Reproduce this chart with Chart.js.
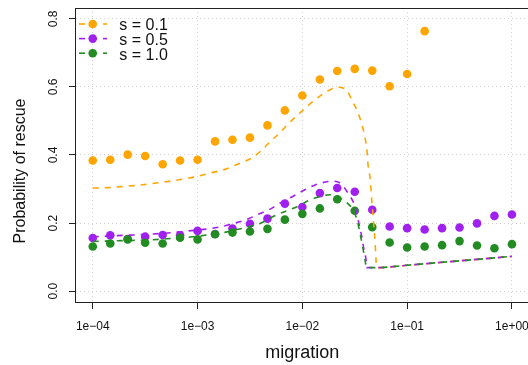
<!DOCTYPE html>
<html>
<head>
<meta charset="utf-8">
<script src="https://cdn.jsdelivr.net/npm/chart.js@4.4.1/dist/chart.umd.min.js"></script>
<style>
html,body{margin:0;padding:0;overflow:hidden;background:#ffffff;width:528px;height:365px}
#wrap{width:560px;height:365px;position:relative}
canvas{display:block}
</style>
</head>
<body>
<div id="wrap"><canvas id="c"></canvas></div>
<script>
// ---------- data ----------
const seriesNames = ['s = 0.1', 's = 0.5', 's = 1.0'];
const seriesColors = ['#FFA500', '#A020F0', '#228B22'];

// simulated points: log10(migration)
const pointLogMigration = [-4.000,-3.833,-3.667,-3.500,-3.333,-3.167,-3.000,-2.833,-2.667,-2.500,
  -2.333,-2.167,-2.000,-1.833,-1.667,-1.500,-1.333,-1.167,-1.000,-0.833,-0.667,-0.500,-0.333,-0.167,0.000];
const pointsS01 = [0.384,0.386,0.401,0.397,0.373,0.384,0.386,0.440,0.445,0.451,
  0.487,0.531,0.575,0.622,0.647,0.653,0.648,0.602,0.638,0.764];
const pointsS05 = [0.156,0.164,0.153,0.160,0.165,0.164,0.177,0.168,0.184,0.198,
  0.213,0.257,0.247,0.288,0.303,0.292,0.239,0.190,0.185,0.181,0.185,0.187,0.199,0.221,0.225];
const pointsS10 = [0.131,0.140,0.152,0.142,0.140,0.157,0.152,0.167,0.172,0.175,
  0.183,0.210,0.227,0.243,0.270,0.236,0.188,0.143,0.128,0.131,0.135,0.147,0.134,0.126,0.138];

// theoretical curves (dashed)
const curveLogMigrationS01 = [-4.000,-3.853,-3.730,-3.606,-3.482,-3.358,-3.243,-3.119,-3.005,-2.881,-2.747,-2.624,-2.480,-2.385,-2.337,-2.213,-2.117,-1.993,-1.897,-1.802,-1.735,-1.668,-1.612,-1.573,-1.516,-1.468,-1.433,-1.402,-1.383,-1.373,-1.354,-1.338,-1.323,-1.307,-1.297,-1.292,-1.000,-0.500,0.000];
const curveS01 = [0.303,0.304,0.307,0.310,0.314,0.319,0.324,0.330,0.337,0.347,0.357,0.372,0.392,0.415,0.430,0.466,0.497,0.532,0.558,0.580,0.592,0.599,0.597,0.588,0.554,0.524,0.490,0.451,0.411,0.371,0.333,0.268,0.209,0.150,0.091,0.069,0.076,0.089,0.102];
const curveLogMigrationS05 = [-4.000,-3.825,-3.701,-3.606,-3.425,-3.243,-3.119,-2.871,-2.747,-2.652,-2.527,-2.412,-2.307,-2.211,-2.088,-1.993,-1.878,-1.754,-1.697,-1.640,-1.564,-1.497,-1.468,-1.433,-1.411,-1.392,-1.387,-1.292,-1.000,-0.500,0.000];
const curveS05 = [0.160,0.162,0.164,0.165,0.168,0.172,0.176,0.184,0.191,0.199,0.211,0.227,0.241,0.259,0.279,0.295,0.312,0.322,0.323,0.317,0.288,0.248,0.209,0.160,0.120,0.091,0.069,0.069,0.076,0.089,0.102];
const curveLogMigrationS10 = [-4.000,-3.767,-3.606,-3.367,-3.243,-3.100,-2.861,-2.718,-2.623,-2.527,-2.403,-2.279,-2.184,-2.050,-1.926,-1.831,-1.735,-1.678,-1.621,-1.526,-1.478,-1.450,-1.424,-1.402,-1.387,-1.292,-1.000,-0.500,0.000];
const curveS10 = [0.146,0.148,0.149,0.152,0.155,0.158,0.167,0.174,0.181,0.188,0.199,0.219,0.232,0.248,0.268,0.278,0.283,0.282,0.270,0.243,0.209,0.170,0.130,0.091,0.069,0.069,0.076,0.089,0.102];

// axes
const xTickValues = [1e-4, 1e-3, 1e-2, 1e-1, 1e0];
const xTickLabels = ['1e\u221204', '1e\u221203', '1e\u221202', '1e\u221201', '1e+00'];
const yTickValues = [0, 0.2, 0.4, 0.6, 0.8];
const yTickLabels = ['0.0', '0.2', '0.4', '0.6', '0.8'];
const xTitle = 'migration';
const yTitle = 'Probability of rescue';

// ---------- helpers ----------
const toXY = (logs, vals) => vals.map((v, i) => ({ x: Math.pow(10, logs[i]), y: v }));
const FONT = '"Liberation Sans", Arial, Helvetica, sans-serif';

const pointSets = [pointsS01, pointsS05, pointsS10];
const curveSets = [[curveLogMigrationS01, curveS01], [curveLogMigrationS05, curveS05], [curveLogMigrationS10, curveS10]];

const datasets = [];
pointSets.forEach((vals, i) => {
  datasets.push({
    label: seriesNames[i] + ' sim',
    data: toXY(pointLogMigration, vals),
    showLine: false,
    pointRadius: 4.3,
    pointHoverRadius: 4.3,
    pointBackgroundColor: seriesColors[i],
    pointBorderWidth: 0,
    borderColor: seriesColors[i],
    order: 10 - i
  });
});
curveSets.forEach((c, i) => {
  datasets.push({
    label: seriesNames[i],
    data: toXY(c[0], c[1]),
    showLine: true,
    pointRadius: 0,
    borderColor: seriesColors[i],
    borderWidth: 1.6,
    borderDash: [6, 6],
    cubicInterpolationMode: 'monotone',
    fill: false,
    order: 5 - i
  });
});

// ---------- plugins ----------
const rDecor = {
  id: 'rDecor',
  afterDraw(chart) {
    const ctx = chart.ctx;
    const a = chart.chartArea;
    const ys = chart.scales.y;
    ctx.save();
    // box
    ctx.strokeStyle = '#222';
    ctx.lineWidth = 1;
    ctx.strokeRect(Math.round(a.left) - 0.5, Math.round(a.top) + 0.5, Math.round(a.right - a.left) + 1, Math.round(a.bottom - a.top));
    // y tick labels (rotated, R style)
    ctx.fillStyle = '#111';
    ctx.font = '12px ' + FONT;
    ctx.textAlign = 'center';
    ctx.textBaseline = 'alphabetic';
    yTickValues.forEach((v, i) => {
      const py = ys.getPixelForValue(v);
      ctx.save();
      ctx.translate(57.3, py);
      ctx.rotate(-Math.PI / 2);
      ctx.fillText(yTickLabels[i], 0, 0);
      ctx.restore();
    });
    // y title
    ctx.font = '16px ' + FONT;
    ctx.save();
    ctx.translate(25.3, 171);
    ctx.rotate(-Math.PI / 2);
    ctx.fillText(yTitle, 0, 0);
    ctx.restore();
    // legend
    chart.data.datasets.slice(3).forEach((ds, i) => {
      const y = 24 + i * 14.6;
      ctx.strokeStyle = ds.borderColor;
      ctx.lineWidth = 1.6;
      ctx.setLineDash([6, 6]);
      ctx.beginPath();
      ctx.moveTo(79, y);
      ctx.lineTo(107, y);
      ctx.stroke();
      ctx.setLineDash([]);
      ctx.fillStyle = ds.borderColor;
      ctx.beginPath();
      ctx.arc(92.7, y, 4.3, 0, Math.PI * 2);
      ctx.fill();
      ctx.fillStyle = '#111';
      ctx.textAlign = 'left';
      ctx.font = '16px ' + FONT;
      ctx.fillText(ds.label, 119.3, y + 6.3);
    });
    ctx.restore();
  }
};

// ---------- chart ----------
const canvas = document.getElementById('c');
canvas.style.width = '560px';
canvas.style.height = '365px';

new Chart(canvas, {
  type: 'scatter',
  data: { datasets },
  options: {
    responsive: false,
    animation: false,
    events: [],
    layout: { padding: { left: 0, top: 8, right: 31.3, bottom: 0 } },
    plugins: { legend: { display: false }, tooltip: { enabled: false } },
    scales: {
      x: {
        type: 'logarithmic',
        min: Math.pow(10, -4.16),
        max: Math.pow(10, 0.16),
        afterBuildTicks: (s) => { s.ticks = xTickValues.map(v => ({ value: v })); },
        afterFit: (s) => { s.height = 63; },
        ticks: {
          autoSkip: false, maxRotation: 0, minRotation: 0,
          color: '#111', font: { size: 12, family: FONT }, padding: 10,
          callback: (v, i) => xTickLabels[i]
        },
        grid: { color: '#d3d3d3', lineWidth: 1, tickLength: 7, tickColor: '#222', tickWidth: 1 },
        border: { display: false, dash: [1, 3] },
        title: { display: true, text: xTitle, color: '#111', font: { size: 18, family: FONT }, padding: { top: 0, bottom: 1 } }
      },
      y: {
        type: 'linear',
        min: -0.032,
        max: 0.832,
        afterBuildTicks: (s) => { s.ticks = yTickValues.map(v => ({ value: v })); },
        afterFit: (s) => { s.width = 76; },
        ticks: { display: false },
        grid: { color: '#d3d3d3', lineWidth: 1, tickLength: 7, tickColor: '#222', tickWidth: 1 },
        border: { display: false, dash: [1, 3] }
      }
    }
  },
  plugins: [rDecor]
});
</script>
</body>
</html>
